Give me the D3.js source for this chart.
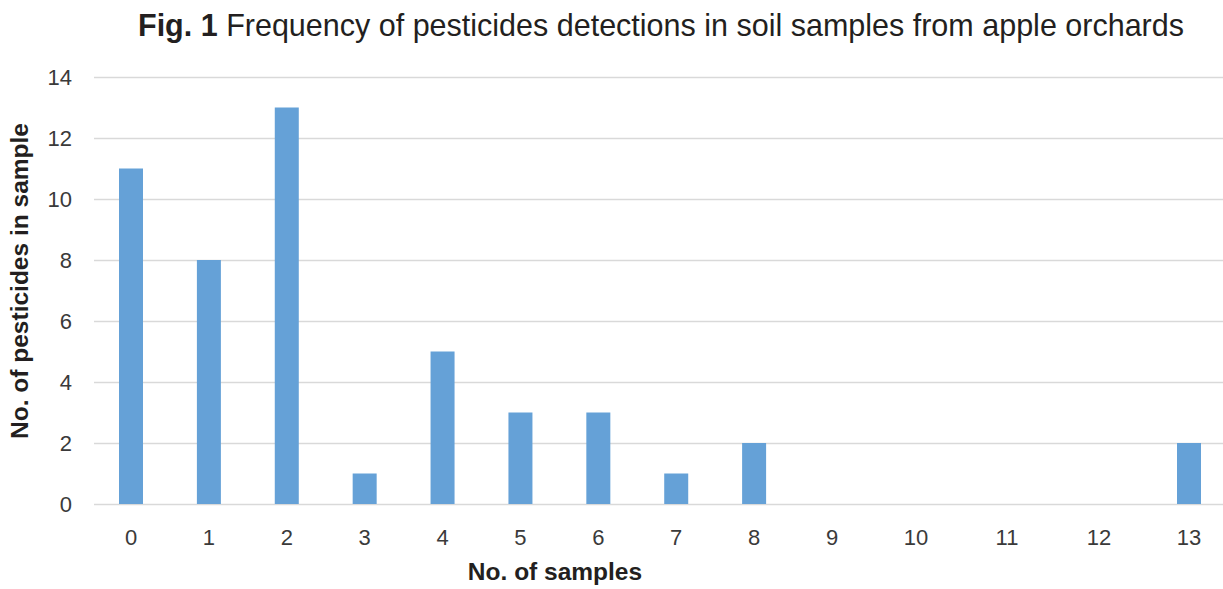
<!DOCTYPE html>
<html>
<head>
<meta charset="utf-8">
<script src="https://cdn.jsdelivr.net/npm/d3@7"></script>
<style>
  body { margin: 0; background: #fff; }
  svg { display: block; font-family: "Liberation Sans", Arial, sans-serif; }
</style>
</head>
<body>
<svg id="chart"></svg>
<script>
// ── Data ──────────────────────────────────────────────────────────────────────
const categories = [0, 1, 2, 3, 4, 5, 6, 7, 8, 9, 10, 11, 12, 13];
const counts     = [11, 8, 13, 1, 5, 3, 3, 1, 2, 0, 0, 0, 0, 2];
const yTicks     = [0, 2, 4, 6, 8, 10, 12, 14];

const W = 1223, H = 589;
const svg = d3.select('#chart').attr('width', W).attr('height', H);

// plot frame
const plotL = 94, plotR = 1223, plotT = 77, plotB = 504;

// category axis is unevenly spaced past 9 in the original
const x = d3.scaleLinear()
    .domain([0, 9, 10, 11, 12, 13])
    .range([131, 832, 916, 1007, 1099, 1189]);
const y = d3.scaleLinear().domain([0, 14]).range([plotB, plotT]);
const barW = 24;

// ── Grid ──────────────────────────────────────────────────────────────────────
svg.append('g').selectAll('line').data(yTicks).join('line')
    .attr('x1', plotL).attr('x2', plotR)
    .attr('y1', d => Math.round(y(d)) + 0.5).attr('y2', d => Math.round(y(d)) + 0.5)
    .attr('stroke', '#d9d9d9').attr('stroke-width', 1.3);

// ── Bars ──────────────────────────────────────────────────────────────────────
svg.append('g').selectAll('rect').data(categories).join('rect')
    .attr('x', (d) => x(d) - barW / 2)
    .attr('width', barW)
    .attr('y', (d, i) => y(counts[i]))
    .attr('height', (d, i) => y(0) - y(counts[i]))
    .attr('fill', '#65a1d7');

// ── Tick labels ───────────────────────────────────────────────────────────────
svg.append('g').selectAll('text').data(yTicks).join('text')
    .attr('x', 72).attr('y', d => y(d) + 8)
    .attr('text-anchor', 'end')
    .attr('font-size', 22).attr('fill', '#3a3a3a')
    .text(d => d);

svg.append('g').selectAll('text').data(categories).join('text')
    .attr('x', d => x(d)).attr('y', 545)
    .attr('text-anchor', 'middle')
    .attr('font-size', 22).attr('fill', '#3a3a3a')
    .text(d => d);

// ── Titles ────────────────────────────────────────────────────────────────────
const title = svg.append('text')
    .attr('x', 661).attr('y', 36)
    .attr('text-anchor', 'middle')
    .attr('font-size', 30.5).attr('fill', '#231f20');
title.append('tspan').attr('font-weight', 'bold').text('Fig. 1');
title.append('tspan').text(' Frequency of pesticides detections in soil samples from apple orchards');

svg.append('text')
    .attr('x', 555).attr('y', 580)
    .attr('text-anchor', 'middle')
    .attr('font-size', 24.5).attr('font-weight', 'bold').attr('fill', '#231f20')
    .text('No. of samples');

svg.append('text')
    .attr('transform', 'translate(28,281) rotate(-90)')
    .attr('text-anchor', 'middle')
    .attr('font-size', 24.5).attr('font-weight', 'bold').attr('fill', '#231f20')
    .text('No. of pesticides in sample');
</script>
</body>
</html>
